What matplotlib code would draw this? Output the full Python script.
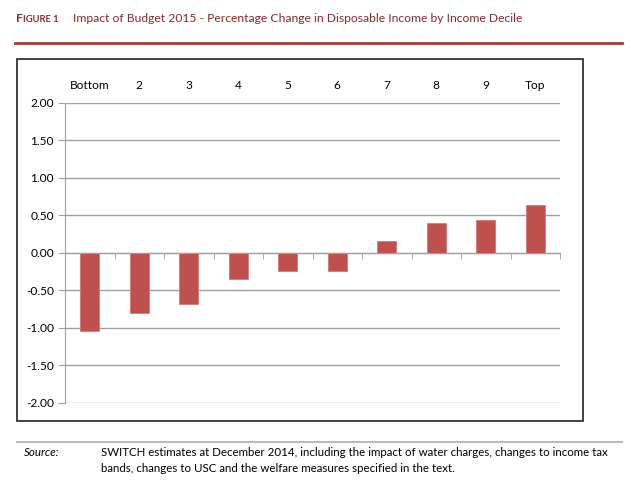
import matplotlib.pyplot as plt
from matplotlib.patches import Rectangle
from matplotlib.lines import Line2D
import numpy as np

plt.rcParams['font.family'] = ['Lato', 'DejaVu Sans']

deciles = ["Bottom", "2", "3", "4", "5", "6", "7", "8", "9", "Top"]
change = [-1.05, -0.81, -0.68, -0.35, -0.25, -0.24, 0.16, 0.39, 0.44, 0.64]
yticks = [2.0, 1.5, 1.0, 0.5, 0.0, -0.5, -1.0, -1.5, -2.0]

W, H = 635, 493
fig = plt.figure(figsize=(W / 100, H / 100), dpi=100)

# header
fig.text(16 / W, 1 - 19 / H, "F", color="#8B2A2A", fontsize=8.7, fontweight="bold", va="center")
fig.text(23 / W, 1 - 19.5 / H, "IGURE 1", color="#8B2A2A", fontsize=6.8, fontweight="bold", va="center")
fig.text(73 / W, 1 - 19 / H, "Impact of Budget 2015 - Percentage Change in Disposable Income by Income Decile",
         color="#8B2A2A", fontsize=8.7, va="center")
fig.add_artist(Line2D([15 / W, 622 / W], [1 - 43 / H, 1 - 43 / H], color="#A33A3A", lw=2))

# chart frame
fig.add_artist(Rectangle((17 / W, 1 - 421 / H), 566 / W, 362 / H, fill=False,
                         edgecolor="#222222", lw=1.2))

ax = fig.add_axes([65 / W, 1 - 402.7 / H, 495 / W, 300 / H])
x = np.arange(len(deciles))
ax.bar(x, change, width=0.39, color="#C0504D", edgecolor="#D47A78", lw=0.6, zorder=3)

ax.set_xlim(-0.5, len(deciles) - 0.5)
ax.set_ylim(-2, 2)
ax.set_yticks(yticks)
ax.set_yticklabels([f"{v:.2f}" for v in yticks], fontsize=8.6)
ax.grid(axis="y", color="#A0A0A0", lw=1)
ax.set_axisbelow(True)

for s in ["top", "right"]:
    ax.spines[s].set_visible(False)
ax.spines["left"].set_color("#A0A0A0")
ax.spines["bottom"].set_color("#A0A0A0")
ax.spines["bottom"].set_position(("data", 0))
ax.spines["bottom"].set_zorder(4)

ax.set_xticks(x)
ax.set_xticklabels(deciles, fontsize=8.6)
ax.set_xticks(np.arange(-0.5, len(deciles)), minor=True)
ax.tick_params(axis="x", which="major", bottom=False, top=False, labeltop=True,
               labelbottom=False, pad=5)
ax.tick_params(axis="x", which="minor", bottom=True, length=4, color="#A0A0A0")
ax.tick_params(axis="y", length=5, color="#A0A0A0", pad=3)

# source note
fig.add_artist(Line2D([17 / W, 622 / W], [1 - 442 / H, 1 - 442 / H], color="#BBBBBB", lw=1.5))
fig.text(24 / W, 1 - 453 / H, "Source:", fontsize=8.3, style="italic", va="center")
fig.text(101 / W, 1 - 453 / H,
         "SWITCH estimates at December 2014, including the impact of water charges, changes to income tax",
         fontsize=8.3, va="center")
fig.text(101 / W, 1 - 469 / H,
         "bands, changes to USC and the welfare measures specified in the text.",
         fontsize=8.3, va="center")

fig.savefig("out.png", dpi=100)
